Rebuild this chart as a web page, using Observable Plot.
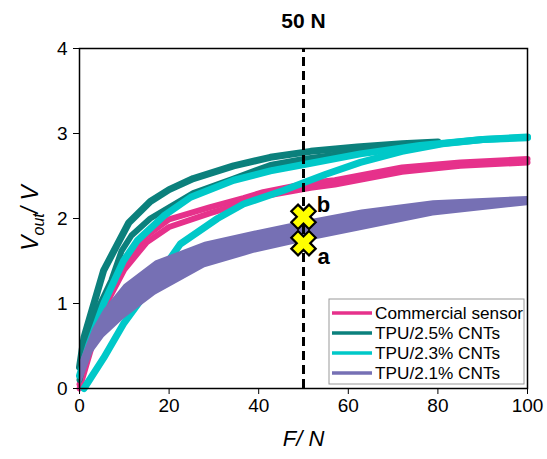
<!DOCTYPE html>
<html>
<head>
<meta charset="utf-8">
<script src="https://cdn.jsdelivr.net/npm/d3@7"></script>
<script src="https://cdn.jsdelivr.net/npm/@observablehq/plot@0.6"></script>
<style>
  body { margin: 0; background: #fff; }
  #chart svg { font-family: "Liberation Sans", Arial, sans-serif; }
</style>
</head>
<body>
<div id="chart"></div>
<script>
// Output voltage vs. applied force for each sensor (loading and unloading branches)
const seriesNames = ["Commercial sensor", "TPU/2.5% CNTs", "TPU/2.3% CNTs", "TPU/2.1% CNTs"];
const seriesColors = ["#e6318b", "#0b807c", "#00c8c8", "#7670b4"];

// Commercial sensor
const pinkLoadF   = [0, 5, 10, 15, 20, 29, 36.6, 41, 51.6, 57, 72, 85, 100];
const pinkLoadV   = [0, 0.9, 1.4, 1.72, 1.9, 2.06, 2.18, 2.26, 2.36, 2.4, 2.55, 2.62, 2.66];
const pinkUnloadV = [0.05, 0.95, 1.46, 1.8, 1.99, 2.13, 2.24, 2.31, 2.42, 2.45, 2.6, 2.66, 2.7];

// TPU/2.5% CNTs
const tealUnloadF = [0, 1, 5.4, 11, 15.8, 20, 25.4, 34.4, 42.6, 51.6, 62, 72, 80];
const tealUnloadV = [0.25, 0.6, 1.39, 1.95, 2.2, 2.34, 2.47, 2.62, 2.72, 2.79, 2.84, 2.88, 2.9];
const tealLoadF   = [0, 2, 4.2, 7.1, 9.4, 11.6, 15.8, 25.4, 34.4, 42.6, 50, 60, 70, 80];
const tealLoadV   = [0.1, 0.55, 0.95, 1.27, 1.62, 1.8, 2.0, 2.3, 2.47, 2.63, 2.7, 2.77, 2.83, 2.88];

// TPU/2.3% CNTs
const cyanUnloadF = [0, 2, 5.4, 9.8, 12.9, 18.8, 24.8, 34.4, 42.6, 51.6, 62.7, 76, 90, 100];
const cyanUnloadV = [0.15, 0.5, 1.0, 1.5, 1.74, 2.03, 2.25, 2.45, 2.56, 2.65, 2.76, 2.86, 2.93, 2.96];
const cyanLoadF   = [1, 5.4, 9.8, 15.2, 22.5, 30.8, 36.6, 45.5, 50, 55, 62.7, 72, 81, 90, 100];
const cyanLoadV   = [0, 0.36, 0.76, 1.15, 1.7, 2.0, 2.17, 2.33, 2.42, 2.52, 2.66, 2.79, 2.88, 2.93, 2.95];

// TPU/2.1% CNTs: band between loading (lower) and unloading (upper) branches
const purpleF      = [0, 3, 5.5, 10, 17, 28, 39, 50, 63, 79, 100];
const purpleUpperV = [0.3, 0.7, 0.93, 1.22, 1.5, 1.72, 1.85, 1.97, 2.1, 2.21, 2.26];
const purpleLowerV = [0, 0.42, 0.6, 0.82, 1.1, 1.42, 1.59, 1.72, 1.86, 2.03, 2.15];

// Read-out points at 50 N
const markerLabels = ["b", "a"];
const markerF = [50, 50];
const markerV = [2.02, 1.71];

const xTicks = [0, 20, 40, 60, 80, 100];
const yTicks = [0, 1, 2, 3, 4];
const titleText = "50 N";
const xTitle = "F/ N";
const refForce = 50;

const toRows = (fs, vs) => fs.map((f, i) => ({f, v: vs[i]}));

const pinkLoad = toRows(pinkLoadF, pinkLoadV);
const pinkUnload = toRows(pinkLoadF, pinkUnloadV);
const tealUnload = toRows(tealUnloadF, tealUnloadV);
const tealLoad = toRows(tealLoadF, tealLoadV);
const cyanUnload = toRows(cyanUnloadF, cyanUnloadV);
const cyanLoad = toRows(cyanLoadF, cyanLoadV);
const purpleBand = purpleF.map((f, i) => ({f, lo: purpleLowerV[i], hi: purpleUpperV[i]}));
const markers = markerF.map((f, i) => ({f, v: markerV[i], label: markerLabels[i]}));

// Fat "X" symbol: a plus sign rotated by 45 degrees
const crossSymbol = {
  draw(context, size) {
    const R = Math.sqrt(size / Math.PI);
    const L = R, a = R * 0.38;
    const pts = [[a,-L],[a,-a],[L,-a],[L,a],[a,a],[a,L],[-a,L],[-a,a],[-L,a],[-L,-a],[-a,-a],[-a,-L]];
    const s = Math.SQRT1_2;
    pts.forEach(([x, y], i) => {
      const px = (x - y) * s, py = (x + y) * s;
      if (i === 0) context.moveTo(px, py); else context.lineTo(px, py);
    });
    context.closePath();
  }
};

const lineOpts = (color, w) => ({x: "f", y: "v", stroke: color, strokeWidth: w, curve: "linear", strokeLinejoin: "round"});

const plot = Plot.plot({
  width: 547,
  height: 459,
  marginLeft: 79,
  marginRight: 20,
  marginTop: 48,
  marginBottom: 71,
  style: {fontFamily: "'Liberation Sans', Arial, sans-serif", fontSize: "19px", color: "#000", background: "#fff", overflow: "visible"},
  x: {domain: [0, 100], label: null},
  y: {domain: [0, 4], label: null},
  marks: [
    Plot.line(pinkUnload, lineOpts(seriesColors[0], 6)),
    Plot.line(pinkLoad, lineOpts(seriesColors[0], 6)),
    Plot.line(tealLoad, lineOpts(seriesColors[1], 6)),
    Plot.line(tealUnload, lineOpts(seriesColors[1], 7)),
    Plot.line(cyanUnload, lineOpts(seriesColors[2], 7)),
    Plot.line(cyanLoad, lineOpts(seriesColors[2], 7)),
    Plot.areaY(purpleBand, {x: "f", y1: "lo", y2: "hi", fill: seriesColors[3]}),
    Plot.ruleX([refForce], {y1: 0, y2: 4, stroke: "#000", strokeWidth: 3, strokeDasharray: "9,5"}),
    Plot.dot(markers, {x: "f", y: "v", symbol: crossSymbol, r: 12.5, fill: "#ffff00", stroke: "#000", strokeWidth: 2.2}),
    Plot.text(markers.filter(d => d.label === "b"), {x: "f", y: "v", text: "label", dx: 20, dy: -12, fontSize: 22, fontWeight: "bold"}),
    Plot.text(markers.filter(d => d.label === "a"), {x: "f", y: "v", text: "label", dx: 20, dy: 14, fontSize: 22, fontWeight: "bold"}),
    Plot.text([titleText], {x: refForce, y: 4, dy: -27, fontSize: 21, fontWeight: "bold"}),
    Plot.frame({stroke: "#000", strokeWidth: 1.5}),
    Plot.axisX({ticks: xTicks, tickSize: 6, tickPadding: 4, label: null, fontSize: 19, tickFormat: d3.format("d")}),
    Plot.axisY({ticks: yTicks, tickSize: 6, tickPadding: 6, label: null, fontSize: 19, tickFormat: d3.format("d")}),
    Plot.text([xTitle], {frameAnchor: "bottom", dy: 57, fontSize: 22, fontStyle: "italic"})
  ]
});

document.getElementById("chart").appendChild(plot);

const svg = d3.select(plot);

// y-axis title with subscript
const yTitle = svg.append("text")
  .attr("transform", "translate(38,218) rotate(-90)")
  .attr("text-anchor", "middle")
  .attr("font-size", 23)
  .attr("font-style", "italic")
  .attr("fill", "#000");
yTitle.append("tspan").text("V");
yTitle.append("tspan").attr("font-size", 16).attr("dy", 6).text("out");
yTitle.append("tspan").attr("dy", -6).text("/ V");

// legend box in the lower right corner of the frame
const legend = svg.append("g").attr("transform", "translate(329,299)");
legend.append("rect")
  .attr("width", 195).attr("height", 85)
  .attr("fill", "#fff").attr("stroke", "#9a9a9a").attr("stroke-width", 1);
seriesNames.forEach((name, i) => {
  const yy = 14 + i * 20;
  legend.append("line")
    .attr("x1", 3).attr("x2", 43).attr("y1", yy).attr("y2", yy)
    .attr("stroke", seriesColors[i]).attr("stroke-width", 3.5);
  legend.append("text")
    .attr("x", 46).attr("y", yy).attr("dy", "0.35em")
    .attr("text-anchor", "start")
    .attr("font-size", 17.2).attr("fill", "#000")
    .text(name);
});
</script>
</body>
</html>
